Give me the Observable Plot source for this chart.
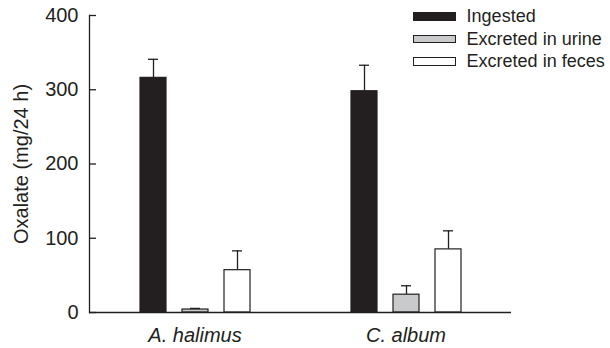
<!DOCTYPE html>
<html>
<head>
<meta charset="utf-8">
<script src="https://cdn.jsdelivr.net/npm/d3@7"></script>
<script src="https://cdn.jsdelivr.net/npm/@observablehq/plot@0.6"></script>
<style>
  html, body { margin: 0; padding: 0; background: #fff; }
  #wrap { position: relative; width: 610px; height: 348px; font-family: Arial, "Liberation Sans", Helvetica, sans-serif; color: #231f20; }
  #legend { position: absolute; left: 413px; top: 5px; }
  .row { display: flex; align-items: center; height: 22.6px; }
  .sw { width: 40.6px; height: 6.6px; border: 1.2px solid #231f20; margin-right: 11px; }
  .lab { font-size: 18px; line-height: 18px; white-space: nowrap; }
</style>
</head>
<body>
<div id="wrap"></div>
<script>
const groups = ["A. halimus", "C. album"];
const series = ["Ingested", "Excreted in urine", "Excreted in feces"];
const fills = ["#231f20", "#c9cacc", "#ffffff"];
const valuesA = [316, 4, 57];
const errorsA = [25, 1.5, 26];
const valuesC = [298, 24, 85];
const errorsC = [35, 12, 25];
const yTicks = [0, 100, 200, 300, 400];

const data = [];
series.forEach((s, i) => {
  data.push({group: groups[0], series: s, value: valuesA[i], err: errorsA[i]});
  data.push({group: groups[1], series: s, value: valuesC[i], err: errorsC[i]});
});
data.forEach(d => d.top = d.value + d.err);

const ink = "#231f20";
const plot = Plot.plot({
  width: 610,
  height: 348,
  marginLeft: 89,
  marginRight: 99,
  marginTop: 15,
  marginBottom: 36,
  style: {fontFamily: 'Arial, "Liberation Sans", Helvetica, sans-serif', color: ink, background: "#fff"},
  fx: {domain: groups, padding: 0},
  x: {domain: series, paddingInner: 0.388, paddingOuter: 1.17, axis: null},
  y: {domain: [0, 400]},
  color: {domain: series, range: fills},
  marks: [
    Plot.ruleX(data, {fx: "group", x: "series", y1: "value", y2: "top", stroke: ink, strokeWidth: 1.3}),
    Plot.tickY(data, {fx: "group", x: "series", y: "top", stroke: ink, strokeWidth: 1.3, insetLeft: 8, insetRight: 8}),
    Plot.barY(data, {fx: "group", x: "series", y: "value", fill: "series", stroke: ink, strokeWidth: 1.2}),
    Plot.ruleY([0], {stroke: ink, strokeWidth: 1.3}),
    Plot.frame({anchor: "left", facetAnchor: "left", stroke: ink, strokeWidth: 1.3}),
    Plot.axisY({ticks: yTicks, tickSize: -7, tickPadding: 18, fontSize: 20, stroke: ink, strokeWidth: 1.3,
      label: "Oxalate (mg/24 h)", labelAnchor: "center", labelArrow: "none", labelOffset: 76}),
    Plot.axisFx({anchor: "bottom", tickSize: 0, tickPadding: 15, fontSize: 20, fontStyle: "italic", label: null})
  ]
});
const wrap = document.getElementById("wrap");
wrap.appendChild(plot);

const legend = document.createElement("div");
legend.id = "legend";
series.forEach((s, i) => {
  const row = document.createElement("div");
  row.className = "row";
  const sw = document.createElement("div");
  sw.className = "sw";
  sw.style.background = fills[i];
  const lab = document.createElement("span");
  lab.className = "lab";
  lab.textContent = s;
  row.appendChild(sw);
  row.appendChild(lab);
  legend.appendChild(row);
});
wrap.appendChild(legend);
</script>
</body>
</html>
